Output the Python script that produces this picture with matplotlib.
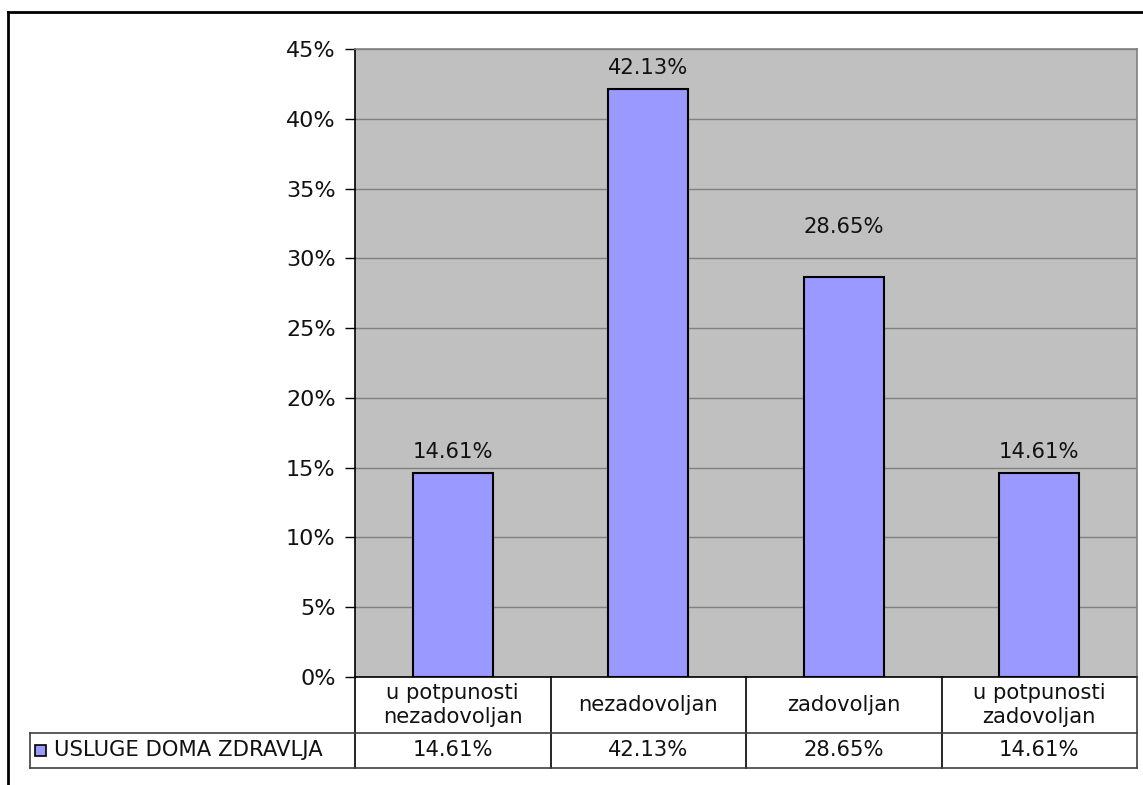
import matplotlib.pyplot as plt
from matplotlib.lines import Line2D
from matplotlib.patches import Rectangle
import matplotlib.transforms as mtransforms

kategorije = ['u potpunosti\nnezadovoljan', 'nezadovoljan', 'zadovoljan', 'u potpunosti\nzadovoljan']
vrijednosti = [14.61, 42.13, 28.65, 14.61]
serija = 'USLUGE DOMA ZDRAVLJA'
yticks = [0, 5, 10, 15, 20, 25, 30, 35, 40, 45]

W, H = 1143, 785
plt.rcParams['font.family'] = ['DejaVu Sans']
fig = plt.figure(figsize=(W / 100, H / 100), dpi=100)
fs = 15.2
tc = '#111111'

# plot area in pixels
L, R, T, B = 355, 1137, 49, 677
ax = fig.add_axes([L / W, 1 - B / H, (R - L) / W, (B - T) / H])
ax.set_facecolor('#C0C0C0')

x = list(range(len(vrijednosti)))
ax.bar(x, vrijednosti, width=0.41, color='#9999FF', edgecolor='black', linewidth=1.5, zorder=3)

# data labels (excel puts the third one higher)
offs = [15, 15, 36, 15]
for xi, v, o in zip(x, vrijednosti, offs):
    ax.annotate(f'{v:.2f}%', (xi, v), xytext=(0, o), textcoords='offset points',
                ha='center', va='center', fontsize=fs, color=tc, zorder=4)

ax.set_xlim(-0.5, len(vrijednosti) - 0.5)
ax.set_ylim(0, 45)
ax.set_yticks(yticks)
ax.set_yticklabels([f'{t}%' for t in yticks], fontsize=16, color=tc)
ax.grid(axis='y', color='#808080', linewidth=1, zorder=1)
ax.set_axisbelow(True)
ax.set_xticks([])
ax.tick_params(axis='y', direction='out', length=7, width=1, pad=7, color='black')
ax.spines['left'].set_color('black')
ax.spines['bottom'].set_color('black')
ax.spines['top'].set_color('#808080')
ax.spines['right'].set_color('#808080')
for s in ax.spines.values():
    s.set_linewidth(1.2)

# data table under the plot
tr = mtransforms.blended_transform_factory(ax.transData, fig.transFigure)
def fy(py):
    return 1 - py / H

row1, row2, row3 = 677, 733, 768
n = len(vrijednosti)
for b in [i - 0.5 for i in range(n + 1)]:
    c = '#404040' if b == n - 0.5 else 'black'
    fig.add_artist(Line2D([b, b], [fy(row1), fy(row3)], transform=tr, color=c, linewidth=1.2))
for yy in [row2, row3]:
    fig.add_artist(Line2D([30 / W, R / W], [fy(yy), fy(yy)], transform=fig.transFigure,
                          color='#404040', linewidth=1.2))
fig.add_artist(Line2D([30 / W, 30 / W], [fy(row2), fy(row3)], transform=fig.transFigure,
                      color='#404040', linewidth=1.2))

for xi, k, v in zip(x, kategorije, vrijednosti):
    fig.add_artist(plt.Text(xi, fy((row1 + row2) / 2), k, transform=tr, ha='center', va='center',
                            fontsize=fs, color=tc, linespacing=1.3))
    fig.add_artist(plt.Text(xi, fy((row2 + row3) / 2), f'{v:.2f}%', transform=tr,
                            ha='center', va='center', fontsize=fs, color=tc))

fig.add_artist(Rectangle((35 / W, fy(756)), 11 / W, 11 / H, transform=fig.transFigure,
                         facecolor='#9999FF', edgecolor='black', linewidth=1.2))
fig.text(54 / W, fy((row2 + row3) / 2), serija, ha='left', va='center',
         fontsize=fs, color=tc)

# outer chart border (cropped)
fig.add_artist(Line2D([8 / W, 1], [fy(12), fy(12)], transform=fig.transFigure, color='black', linewidth=2))
fig.add_artist(Line2D([8 / W, 8 / W], [fy(12), 0], transform=fig.transFigure, color='black', linewidth=2))

fig.savefig('out.png', dpi=100)
